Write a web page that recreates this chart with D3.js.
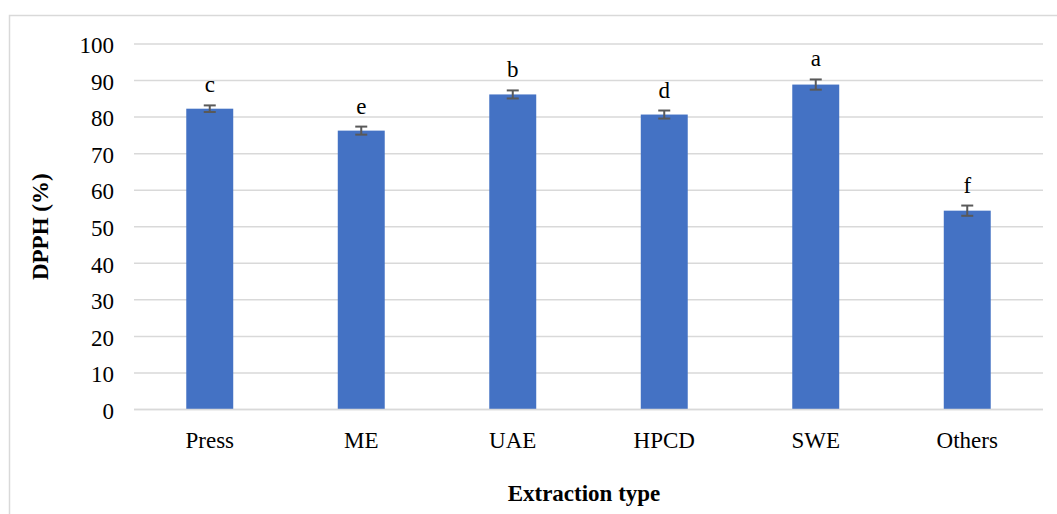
<!DOCTYPE html>
<html><head><meta charset="utf-8">
<script src="https://cdn.jsdelivr.net/npm/d3@7/dist/d3.min.js"></script>
<style>body{margin:0;background:#fff}svg{display:block}</style>
</head><body>
<svg id="c" width="1057" height="514"></svg>
<script>
const categories = ["Press","ME","UAE","HPCD","SWE","Others"];
const values = [82.3, 76.3, 86.2, 80.7, 88.9, 54.4];
const errors = [0.9, 1.1, 1.1, 1.1, 1.4, 1.4];
const letters = ["c","e","b","d","a","f"];
const yTicks = [0,10,20,30,40,50,60,70,80,90,100];

(function(){
const svg = d3.select("#c");
const font = "'Liberation Serif','Times New Roman',serif";
const gray = "#d9d9d9";

svg.append("rect").attr("x",9.5).attr("y",15.5).attr("width",1100).attr("height",600)
  .attr("fill","#fff").attr("stroke",gray).attr("stroke-width",1.5);

const pLeft = 134, pRight = 1043, pTop = 44, pBottom = 409.5;
const x = d3.scaleBand().domain(categories).range([pLeft,pRight]).paddingInner(0.69).paddingOuter(0.345);
const y = d3.scaleLinear().domain([0,100]).range([pBottom,pTop]);

// gridlines
svg.append("g").selectAll("line").data(yTicks).join("line")
  .attr("x1",pLeft).attr("x2",pRight).attr("y1",d=>y(d)).attr("y2",d=>y(d))
  .attr("stroke",gray).attr("stroke-width",1.5);

// y axis labels
const yAxis = d3.axisLeft(y).tickValues(yTicks).tickSize(0).tickPadding(0);
const gy = svg.append("g").attr("transform",`translate(${pLeft-20},0)`).call(yAxis);
gy.select(".domain").remove();
gy.selectAll("text").attr("font-family",font).attr("font-size",23).attr("fill","#000").attr("dy","0.38em");

// bars
svg.append("g").selectAll("rect").data(categories).join("rect")
  .attr("x",d=>x(d)).attr("width",x.bandwidth())
  .attr("y",(d,i)=>y(values[i])).attr("height",(d,i)=>pBottom-y(values[i]))
  .attr("fill","#4472C4");

// x axis line
svg.append("line").attr("x1",pLeft).attr("x2",pRight).attr("y1",pBottom).attr("y2",pBottom)
  .attr("stroke",gray).attr("stroke-width",1.5);

// error bars
const eg = svg.append("g").attr("stroke","#595959").attr("stroke-width",2);
categories.forEach((c,i)=>{
  const cx = x(c)+x.bandwidth()/2;
  const y1 = y(values[i]+errors[i]), y2 = y(values[i]-errors[i]);
  eg.append("line").attr("x1",cx).attr("x2",cx).attr("y1",y1).attr("y2",y2);
  eg.append("line").attr("x1",cx-6).attr("x2",cx+6).attr("y1",y1).attr("y2",y1);
  eg.append("line").attr("x1",cx-6).attr("x2",cx+6).attr("y1",y2).attr("y2",y2);
});

// letters
svg.append("g").selectAll("text").data(categories).join("text")
  .attr("x",d=>x(d)+x.bandwidth()/2)
  .attr("y",(d,i)=>y(values[i]+errors[i])-13)
  .attr("text-anchor","middle").attr("font-family",font).attr("font-size",23)
  .text((d,i)=>letters[i]);

// x axis labels
const xAxis = d3.axisBottom(x).tickSize(0).tickPadding(0);
const gx = svg.append("g").attr("transform",`translate(0,${pBottom})`).call(xAxis);
gx.select(".domain").remove();
gx.selectAll("text").attr("font-family",font).attr("font-size",23).attr("fill","#000")
  .attr("dy",null).attr("y",38);

// axis titles
svg.append("text").attr("x",584).attr("y",501).attr("text-anchor","middle")
  .attr("font-family",font).attr("font-size",23).attr("font-weight","bold").text("Extraction type");
svg.append("text").attr("transform",`translate(48,${(pTop+pBottom)/2}) rotate(-90)`)
  .attr("text-anchor","middle").attr("font-family",font).attr("font-size",23).attr("font-weight","bold")
  .text("DPPH (%)");
})();
</script>
</body></html>
